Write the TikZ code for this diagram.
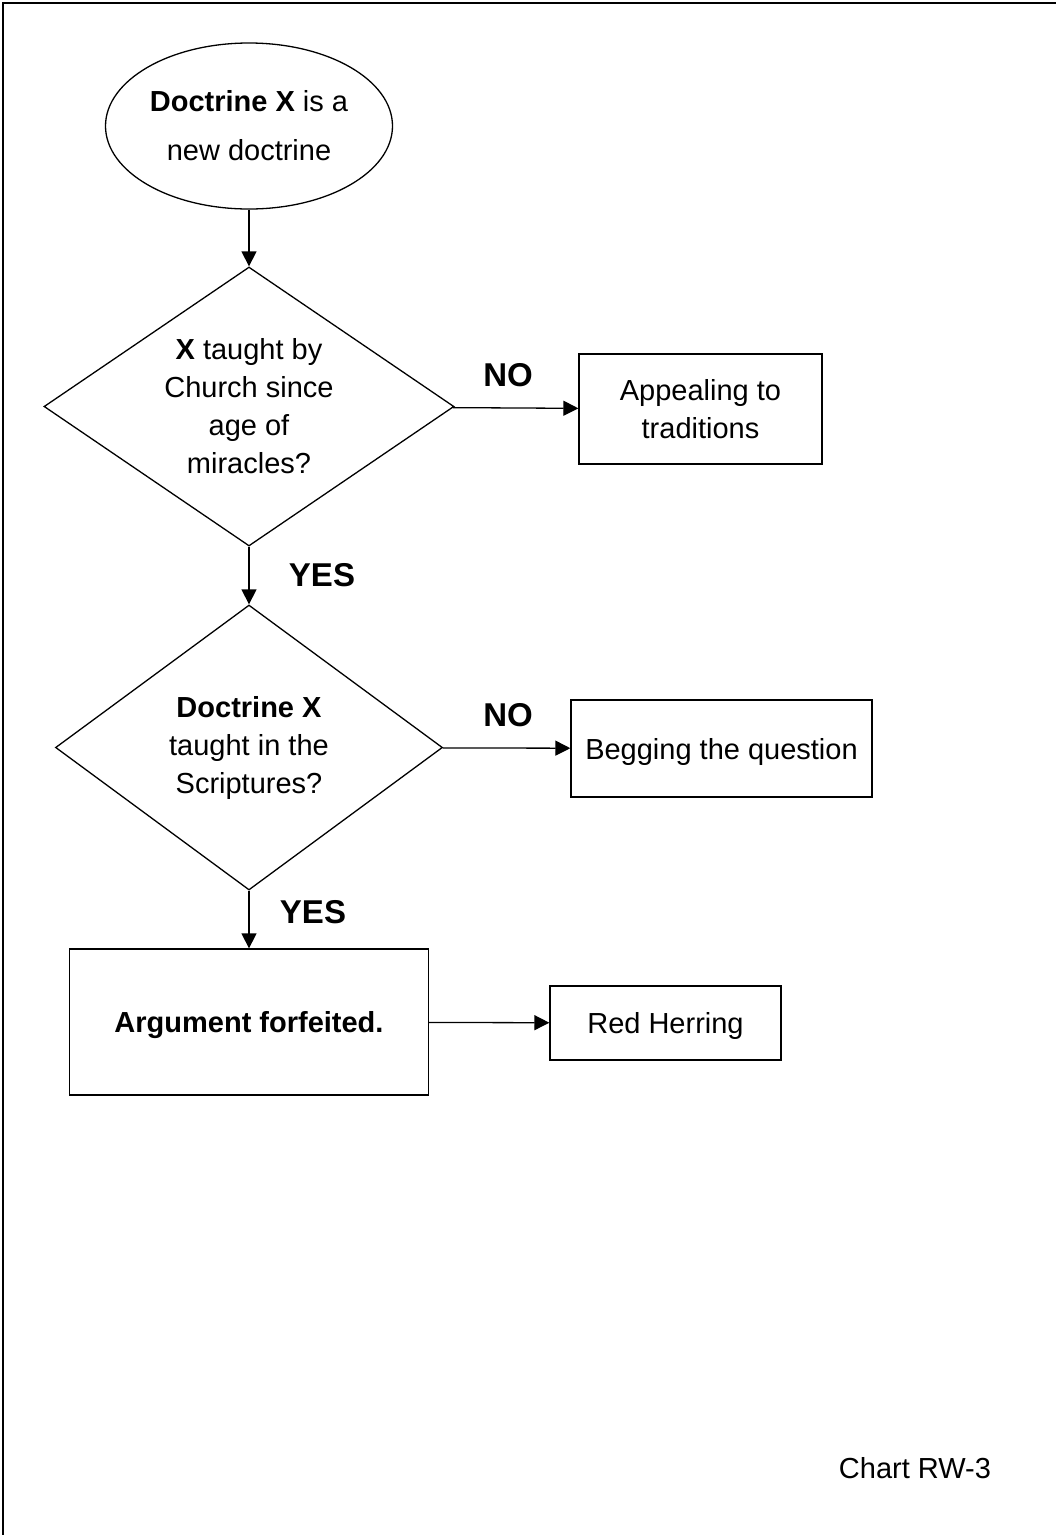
\documentclass[tikz,border=0pt]{standalone}
\usepackage{fontspec}
\setmainfont{Liberation Sans}
\usetikzlibrary{shapes.geometric,arrows.meta}

\begin{document}
\begin{tikzpicture}[x=1pt,y=-1pt,
  every node/.style={font=\fontsize{29}{38}\selectfont,align=center,line width=1.3pt},
  startnode/.style={draw,ellipse,minimum width=287pt,minimum height=166pt,inner sep=0pt},
  decision/.style={draw,diamond,inner sep=0pt,aspect=1.45},
  outcome/.style={draw,rectangle,inner sep=0pt,text depth=0pt},
  flow/.style={-{Triangle[length=15pt,width=15pt]},line width=1.3pt},
  answer/.style={font=\fontsize{33}{40}\selectfont\bfseries}
]

\useasboundingbox (0,0) rectangle (1056,1535);
\draw[line width=2pt] (1056,2.5) -- (2.5,2.5) -- (2.5,1535);

\node[startnode] (doctrine) at (249,126) {\textbf{Doctrine X} is a\\[11pt]new doctrine};
\node[decision,minimum width=410pt,minimum height=279pt] (taught) at (249,406.5) {\textbf{X} taught by\\Church since\\age of\\miracles?};
\node[outcome,minimum width=243pt,minimum height=110pt] (appeal) at (700.5,409) {Appealing to\\traditions};
\node[decision,minimum width=387pt,minimum height=285pt] (scripture) at (249,747.5) {\textbf{Doctrine X}\\taught in the\\Scriptures?};
\node[outcome,minimum width=301pt,minimum height=97pt] (begging) at (721.5,748.5) {Begging the question};
\node[outcome,minimum width=359pt,minimum height=146pt] (forfeit) at (249,1022) {\textbf{Argument forfeited.}};
\node[outcome,minimum width=231pt,minimum height=74pt] (herring) at (665.5,1023) {Red Herring};

\node[answer] (no1) at (508,375) {NO};
\node[answer] (yes1) at (322,575) {YES};
\node[answer] (no2) at (508,715) {NO};
\node[answer] (yes2) at (313,912) {YES};
\node (chart) at (915,1468) {Chart RW-3};

\draw[flow] (doctrine) -- (taught);
\draw[flow] (taught) -- (appeal);
\draw[flow] (taught) -- (scripture);
\draw[flow] (scripture) -- (begging);
\draw[flow] (scripture) -- (forfeit);
\draw[flow] (forfeit) -- (herring);
\end{tikzpicture}
\end{document}
